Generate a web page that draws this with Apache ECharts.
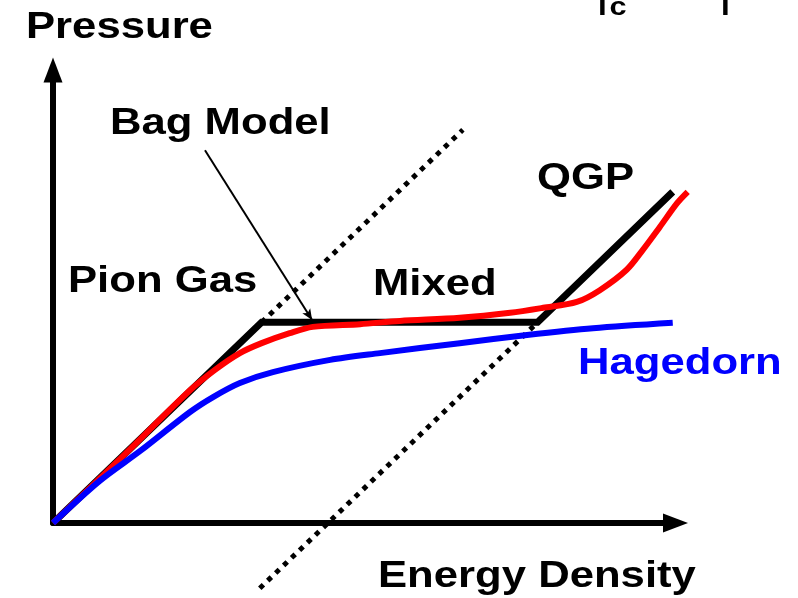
<!DOCTYPE html>
<html>
<head>
<meta charset="utf-8">
<script src="https://cdn.jsdelivr.net/npm/echarts@6/dist/echarts.min.js"></script>
<style>
  html, body { margin: 0; padding: 0; background: #fff; }
  #main { width: 798px; height: 598px; }
</style>
</head>
<body>
<div id="main"></div>
<script>
// energy density (x) vs pressure (y), arbitrary units
var bagX = [0, 3.35, 7.78, 9.95];
var bagY = [0, 4.43, 4.43, 7.31];

// red curve (smooth crossover)
var redX = [0, 1.08, 2.2, 2.6, 3.0, 3.35, 3.8, 4.17, 4.93, 5.57, 6.53, 7.34, 7.87, 8.41, 8.78, 9.21, 9.47, 9.74, 10.02, 10.19];
var redY = [0, 1.42, 2.93, 3.38, 3.75, 3.97, 4.19, 4.33, 4.39, 4.46, 4.53, 4.64, 4.75, 4.88, 5.14, 5.59, 6.03, 6.53, 7.06, 7.31];

// Hagedorn (blue)
var hagX = [0, 0.75, 1.4, 2.2, 2.57, 3.0, 3.53, 4.45, 5.25, 6.53, 7.61, 8.67, 9.95];
var hagY = [0, 0.93, 1.59, 2.45, 2.78, 3.09, 3.33, 3.6, 3.75, 3.97, 4.15, 4.3, 4.42];

// dotted Tc lines
var tcLowX = [3.32, 7.78];
var tcLowY = [-1.44, 4.43];
var tcHighX = [3.35, 6.58];
var tcHighY = [4.43, 8.68];

// "Bag Model" pointer
var arrowFrom = [2.44, 8.23];
var arrowTo = [4.16, 4.48];

var labelTexts = ['Pressure', 'Energy Density', 'Bag Model', 'Pion Gas', 'Mixed', 'QGP', 'Hagedorn', 'Tc', 'T'];

function pairs(xs, ys) {
    return xs.map(function (x, i) { return [x, ys[i]]; });
}

var chart = echarts.init(document.getElementById('main'), null, { renderer: 'canvas' });

var axisLine = {
    show: true,
    symbol: ['none', 'triangle'],
    symbolSize: [19, 25],
    lineStyle: { color: '#000', width: 6 }
};
var noAxis = { show: false };

// left x, baseline y, size, colour
var labelPos = [
    [26, 39, 37, '#000'],
    [378, 588, 37, '#000'],
    [110, 135, 37, '#000'],
    [68, 293, 37, '#000'],
    [373, 296, 37, '#000'],
    [537, 190, 37, '#000'],
    [578, 375, 37, '#0000ff'],
    [593, 16, 26, '#000'],
    [716, 16, 26, '#000']
];

var graphics = labelTexts.map(function (t, i) {
    var p = labelPos[i];
    return {
        type: 'text',
        x: p[0],
        y: p[1] - p[2] * 0.3,
        scaleX: 1.18,
        silent: true,
        style: {
            text: t,
            font: 'bold ' + p[2] + 'px "Liberation Sans", Arial, sans-serif',
            fill: p[3],
            align: 'left',
            verticalAlign: 'middle'
        }
    };
});

var dotted = { color: '#000', width: 5, type: [5, 6], cap: 'butt' };

// grid 0 carries the drawn axes (0..10), grid 1 has the same scale but
// reaches a bit further right so the curves past the arrow are kept
var option = {
    animation: false,
    backgroundColor: '#fff',
    grid: [
        { left: 53, top: 70, right: 122.5, bottom: 75 },
        { left: 53, top: 70, right: 91, bottom: 75 }
    ],
    xAxis: [
        {
            type: 'value', min: 0, max: 10, gridIndex: 0,
            axisLine: axisLine,
            axisTick: noAxis, axisLabel: noAxis, splitLine: noAxis
        },
        {
            type: 'value', min: 0, max: 10.5, gridIndex: 1, show: false
        }
    ],
    yAxis: [
        {
            type: 'value', min: 0, max: 10, gridIndex: 0,
            axisLine: axisLine,
            axisTick: noAxis, axisLabel: noAxis, splitLine: noAxis
        },
        {
            type: 'value', min: 0, max: 10, gridIndex: 1, show: false
        }
    ],
    graphic: graphics,
    series: [
        {
            type: 'line', data: pairs(tcLowX, tcLowY), clip: false,
            xAxisIndex: 1, yAxisIndex: 1,
            showSymbol: false, lineStyle: dotted
        },
        {
            type: 'line', data: pairs(tcHighX, tcHighY), clip: false,
            xAxisIndex: 1, yAxisIndex: 1,
            showSymbol: false, lineStyle: dotted
        },
        {
            name: 'Bag Model', type: 'line', data: pairs(bagX, bagY), clip: false,
            xAxisIndex: 1, yAxisIndex: 1,
            showSymbol: false,
            lineStyle: { color: '#000', width: 7, join: 'miter' },
            markLine: {
                silent: true,
                symbol: ['none', 'arrow'],
                symbolSize: [7, 11],
                label: { show: false },
                lineStyle: { color: '#000', width: 2, type: 'solid' },
                data: [[{ coord: arrowFrom }, { coord: arrowTo }]]
            }
        },
        {
            type: 'line', data: pairs(redX, redY), clip: false, smooth: 0.3,
            xAxisIndex: 1, yAxisIndex: 1,
            showSymbol: false, lineStyle: { color: '#ff0000', width: 6 }
        },
        {
            name: 'Hagedorn', type: 'line', data: pairs(hagX, hagY), clip: false, smooth: 0.3,
            xAxisIndex: 1, yAxisIndex: 1,
            showSymbol: false, lineStyle: { color: '#0000ff', width: 6 }
        }
    ]
};

chart.setOption(option);
</script>
</body>
</html>
